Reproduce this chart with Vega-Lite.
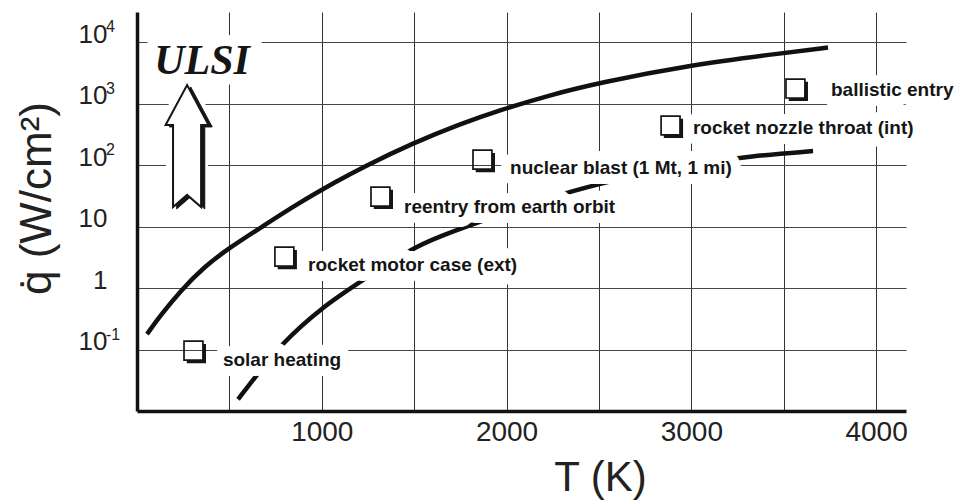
{
  "$schema": "https://vega.github.io/schema/vega-lite/v6.json",
  "width": 769,
  "height": 399,
  "autosize": "none",
  "padding": {"left": 137, "top": 12, "right": 55, "bottom": 91},
  "background": "white",
  "config": {"view": {"stroke": null}, "font": "Liberation Sans"},
  "datasets": {
    "curves": [
      {"curve": "upper", "T": 54, "q": 0.181},
      {"curve": "upper", "T": 124.5, "q": 0.355},
      {"curve": "upper", "T": 233, "q": 0.904},
      {"curve": "upper", "T": 368, "q": 2.31},
      {"curve": "upper", "T": 498, "q": 4.52},
      {"curve": "upper", "T": 682, "q": 10.3},
      {"curve": "upper", "T": 866, "q": 23.5},
      {"curve": "upper", "T": 1083, "q": 55.6},
      {"curve": "upper", "T": 1223, "q": 93.8},
      {"curve": "upper", "T": 1494, "q": 230.6},
      {"curve": "upper", "T": 1748, "q": 469.5},
      {"curve": "upper", "T": 1965, "q": 793},
      {"curve": "upper", "T": 2235, "q": 1390},
      {"curve": "upper", "T": 2495, "q": 2180},
      {"curve": "upper", "T": 2993, "q": 4276},
      {"curve": "upper", "T": 3497, "q": 6700},
      {"curve": "upper", "T": 3740, "q": 8225},
      {"curve": "lower", "T": 547, "q": 0.0158},
      {"curve": "lower", "T": 644, "q": 0.0375},
      {"curve": "lower", "T": 774, "q": 0.1197},
      {"curve": "lower", "T": 1001, "q": 0.497},
      {"curve": "lower", "T": 1223, "q": 1.365},
      {"curve": "lower", "T": 1478, "q": 4.35},
      {"curve": "lower", "T": 1640, "q": 7.08},
      {"curve": "lower", "T": 1840, "q": 11.7},
      {"curve": "lower", "T": 2127, "q": 23.5},
      {"curve": "lower", "T": 2425, "q": 44.4},
      {"curve": "lower", "T": 2777, "q": 77.8},
      {"curve": "lower", "T": 3047, "q": 109},
      {"curve": "lower", "T": 3318, "q": 141.6},
      {"curve": "lower", "T": 3659, "q": 171}
    ],
    "labels": [
      {"label": "solar heating", "T": 465, "q": 0.0683},
      {"label": "rocket motor case (ext)", "T": 926, "q": 2.39},
      {"label": "reentry from earth orbit", "T": 1445, "q": 21.0},
      {"label": "nuclear blast (1 Mt, 1 mi)", "T": 2019, "q": 90.4},
      {"label": "rocket nozzle throat (int)", "T": 3009, "q": 404},
      {"label": "ballistic entry", "T": 3756, "q": 1676}
    ],
    "icons": [
      {"label": "solar heating", "T": 314, "q": 0.092},
      {"label": "rocket motor case (ext)", "T": 806, "q": 3.11},
      {"label": "reentry from earth orbit", "T": 1326, "q": 29.4},
      {"label": "nuclear blast (1 Mt, 1 mi)", "T": 1878, "q": 117},
      {"label": "rocket nozzle throat (int)", "T": 2896, "q": 420},
      {"label": "ballistic entry", "T": 3572, "q": 1676}
    ],
    "exponents": [
      {"T": 0, "q": 10000, "e": "4"},
      {"T": 0, "q": 1000, "e": "3"},
      {"T": 0, "q": 100, "e": "2"},
      {"T": 0, "q": 0.1, "e": "-1"}
    ],
    "ulsi": [{"text": "ULSI", "T": 352, "q": 3055}],
    "arrow": [{"T": 271, "q": 206}]
  },
  "encoding": {
    "x": {
      "field": "T", "type": "quantitative",
      "scale": {"domain": [0, 4162], "nice": false, "zero": false},
      "axis": {
        "values": [500, 1000, 1500, 2000, 2500, 3000, 3500, 4000],
        "format": "d",
        "labelExpr": "datum.value % 1000 === 0 ? datum.label : ''",
        "grid": true, "gridColor": "#333", "gridWidth": 1,
        "ticks": false, "domainColor": "#111", "domainWidth": 3.5,
        "labelFont": "Liberation Sans", "labelFontSize": 28, "labelColor": "#222",
        "labelPadding": 7, "labelFlush": false, "labelOverlap": false,
        "title": "T  (K)", "titleFont": "Liberation Sans", "titleFontSize": 42,
        "titleFontWeight": "normal", "titleColor": "#222",
        "titleX": 463, "titleY": 79, "titleBaseline": "alphabetic", "titleAlign": "center"
      }
    },
    "y": {
      "field": "q", "type": "quantitative",
      "scale": {"type": "log", "domain": [0.0102, 31100], "nice": false},
      "axis": {
        "values": [0.1, 1, 10, 100, 1000, 10000],
        "labelExpr": "datum.value > 0.5 && datum.value < 5 ? '1' : '10'",
        "grid": true, "gridColor": "#444", "gridWidth": 1,
        "ticks": false, "domainColor": "#111", "domainWidth": 3.5,
        "labelFont": "Liberation Sans", "labelFontSize": 26, "labelColor": "#222",
        "labelBaseline": "alphabetic", "labelAlign": "right", "labelPadding": 30,
        "labelFlush": false, "labelOverlap": false,
        "title": "q̇  (W/cm²)", "titleFont": "Liberation Sans", "titleFontSize": 44,
        "titleFontWeight": "normal", "titleColor": "#222",
        "titleX": -87, "titleY": 186, "titleAngle": -90,
        "titleBaseline": "alphabetic", "titleAlign": "center"
      }
    }
  },
  "layer": [
    {
      "data": {"name": "curves"},
      "mark": {"type": "line", "stroke": "#111", "strokeWidth": 4.5, "interpolate": "basis", "strokeCap": "butt"},
      "encoding": {"detail": {"field": "curve"}}
    },
    {
      "data": {"name": "labels"},
      "mark": {"type": "text", "align": "left", "baseline": "middle", "font": "Liberation Sans", "fontWeight": "bold", "fontSize": 19, "fill": "white", "stroke": "white", "strokeWidth": 20, "strokeJoin": "round"},
      "encoding": {"text": {"field": "label"}}
    },
    {
      "data": {"name": "ulsi"},
      "mark": {"type": "text", "align": "center", "baseline": "alphabetic", "font": "Liberation Serif", "fontWeight": "bold", "fontStyle": "italic", "fontSize": 42, "fill": "white", "stroke": "white", "strokeWidth": 22, "strokeJoin": "round"},
      "encoding": {"text": {"field": "text"}}
    },
    {
      "data": {"name": "arrow"},
      "mark": {"type": "point", "shape": "M0,-1 L0.352,-0.344 L0.23,-0.344 L0.23,1 L0,0.8 L-0.23,1 L-0.23,-0.344 L-0.352,-0.344 Z", "size": 14884, "filled": true, "fill": "white", "stroke": "white", "strokeWidth": 14, "strokeJoin": "round", "opacity": 1}
    },
    {
      "data": {"name": "labels"},
      "mark": {"type": "text", "align": "left", "baseline": "middle", "font": "Liberation Sans", "fontWeight": "bold", "fontSize": 19, "fill": "#151515"},
      "encoding": {"text": {"field": "label"}}
    },
    {
      "data": {"name": "icons"},
      "mark": {"type": "point", "shape": "M0.72,-0.75 L1,-0.75 L1,1 L-0.75,1 L-0.75,0.72 L0.72,0.72 Z", "size": 484, "filled": true, "fill": "#151515", "strokeWidth": 0, "opacity": 1}
    },
    {
      "data": {"name": "icons"},
      "mark": {"type": "point", "shape": "M-1,-1 L0.72,-1 L0.72,0.72 L-1,0.72 Z", "size": 484, "filled": false, "stroke": "#151515", "strokeWidth": 1.7, "opacity": 1}
    },
    {
      "data": {"name": "exponents"},
      "mark": {"type": "text", "align": "left", "baseline": "alphabetic", "font": "Liberation Sans", "fontSize": 16, "fill": "#222", "dx": -31, "dy": -10},
      "encoding": {"text": {"field": "e", "type": "nominal"}}
    },
    {
      "data": {"name": "ulsi"},
      "mark": {"type": "text", "align": "center", "baseline": "alphabetic", "font": "Liberation Serif", "fontWeight": "bold", "fontStyle": "italic", "fontSize": 42, "fill": "#151515"},
      "encoding": {"text": {"field": "text"}}
    },
    {
      "data": {"name": "arrow"},
      "mark": {"type": "point", "shape": "M0.06,-0.97 L0.412,-0.314 L0.29,-0.314 L0.29,1.03 L0.06,0.83 L-0.17,1.03 L-0.17,-0.314 L-0.292,-0.314 Z", "size": 14884, "filled": true, "fill": "#151515", "stroke": "#151515", "strokeWidth": 1, "opacity": 1}
    },
    {
      "data": {"name": "arrow"},
      "mark": {"type": "point", "shape": "M0,-1 L0.352,-0.344 L0.23,-0.344 L0.23,1 L0,0.8 L-0.23,1 L-0.23,-0.344 L-0.352,-0.344 Z", "size": 14884, "filled": true, "fill": "white", "stroke": "#151515", "strokeWidth": 2, "strokeJoin": "miter", "opacity": 1}
    }
  ]
}
